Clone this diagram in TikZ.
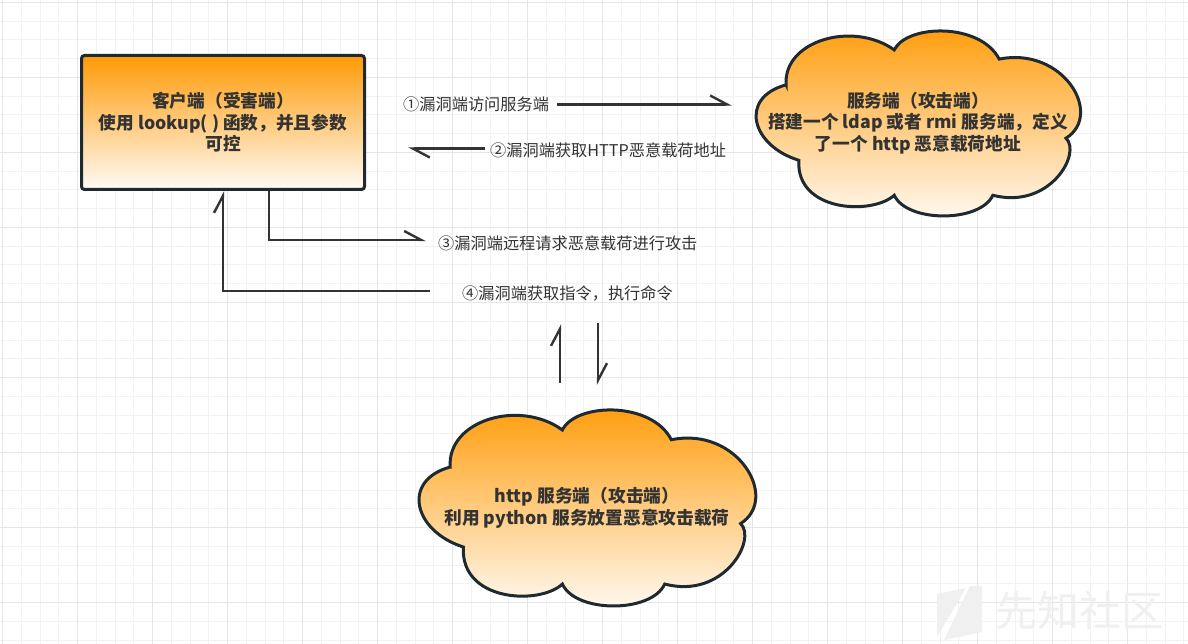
\documentclass[tikz,border=0pt]{standalone}
\usepackage{fontspec}
\setmainfont{Noto Sans CJK SC}
\usetikzlibrary{arrows.meta}
\definecolor{ln}{HTML}{333333}
\definecolor{bd}{HTML}{1F2A30}
\definecolor{org}{HTML}{FF9A05}
\definecolor{wht}{HTML}{FFFBF6}
\definecolor{gmin}{HTML}{F2F2F2}
\definecolor{gmaj}{HTML}{E6E6E6}
\definecolor{wm}{HTML}{F0F0F0}
\newcommand{\cloudoutline}{%
 (0.09,0.29) .. controls (0.08,0.05) and (0.30,-0.06) .. (0.43,0.10)
 .. controls (0.47,-0.04) and (0.70,-0.05) .. (0.76,0.15)
 .. controls (0.96,0.08) and (1.09,0.45) .. (0.97,0.58)
 .. controls (1.02,0.66) and (0.92,0.97) .. (0.74,0.89)
 .. controls (0.70,1.04) and (0.47,1.04) .. (0.43,0.89)
 .. controls (0.36,1.00) and (0.12,0.98) .. (0.13,0.70)
 .. controls (-0.02,0.62) and (-0.06,0.36) .. cycle}
\tikzset{
 conn/.style={draw=ln, line width=2.4pt, -{Straight Barb[harpoon,length=17pt,width=18pt]}},
 lbl/.style={font=\fontsize{16.2}{19}\selectfont, text=ln, inner sep=0pt, anchor=west},
 boxtext/.style={font=\bfseries\fontsize{17.7}{21.5}\selectfont, text=ln, align=center},
 cloudbody/.style={draw=bd, line width=3pt, top color=org, bottom color=wht},
}
\begin{document}
\begin{tikzpicture}[x=1pt,y=-1pt]
\useasboundingbox (0,0) rectangle (1188,644);
\fill[white] (0,0) rectangle (1188,644);
% grid
\foreach \i in {0,...,63} \draw[gmin, line width=1pt] ({2.5+18.75*\i},0) -- ({2.5+18.75*\i},644);
\foreach \i in {0,...,34} \draw[gmin, line width=1pt] (0,{2.5+18.75*\i}) -- (1188,{2.5+18.75*\i});
\foreach \i in {0,...,15} \draw[gmaj, line width=1.3pt] ({2.5+75*\i},0) -- ({2.5+75*\i},644);
\foreach \i in {0,...,8} \draw[gmaj, line width=1.3pt] (0,{2.5+75*\i}) -- (1188,{2.5+75*\i});
% watermark
\fill[wm] (937,594) -- (966,588) -- (937,637) -- cycle;
\fill[wm] (970,586) -- (982,586) -- (982,632) -- (944,640) -- cycle;
\node[font=\fontsize{42}{42}\selectfont, text=wm, anchor=west, inner sep=0pt] (wmk) at (995,611) {先知社区};
% client box
\node[draw=bd, line width=3pt, rounded corners=3pt, top color=org, bottom color=wht,
      minimum width=283pt, minimum height=134pt, boxtext] (client) at (223,122.5)
      {客户端（受害端）\\使用 lookup( ) 函数，并且参数\\可控};
% clouds
\begin{scope}[shift={(757.5,31.5)}, xscale=318, yscale=184]
\path[cloudbody] \cloudoutline;
\end{scope}
\node[boxtext] (srv) at (918,123) {服务端（攻击端）\\搭建一个 ldap 或者 rmi 服务端，定义\\了一个 http 恶意载荷地址};
\begin{scope}[shift={(420.5,410.5)}, xscale=330, yscale=195]
\path[cloudbody] \cloudoutline;
\end{scope}
\node[boxtext] (http) at (587,508) {http 服务端（攻击端）\\利用 python 服务放置恶意攻击载荷};
% labels
\node[lbl] (l1) at (403,104) {①漏洞端访问服务端};
\node[lbl] (l2) at (490,150) {②漏洞端获取HTTP恶意载荷地址};
\node[lbl] (l3) at (438,243) {③漏洞端远程请求恶意载荷进行攻击};
\node[lbl] (l4) at (462,293) {④漏洞端获取指令，执行命令};
% connectors
\coordinate (a1s) at (557,104.5);
\coordinate (a1e) at (732,104.5);
\draw[conn] (a1s) -- (a1e);
\coordinate (a2s) at (485,148.5);
\coordinate (a2e) at (408,148.5);
\draw[conn] (a2s) -- (a2e);
\coordinate (a3e) at (426,240);
\draw[conn] ([xshift=46pt]client.south) |- (a3e);
\coordinate (a4s) at (430,291);
\draw[conn] (a4s) -| (client.south);
\coordinate (v1s) at (560,383);
\coordinate (v1e) at (560,324);
\draw[conn] (v1s) -- (v1e);
\coordinate (v2s) at (598,323);
\coordinate (v2e) at (598,385);
\draw[conn] (v2s) -- (v2e);
\end{tikzpicture}
\end{document}
